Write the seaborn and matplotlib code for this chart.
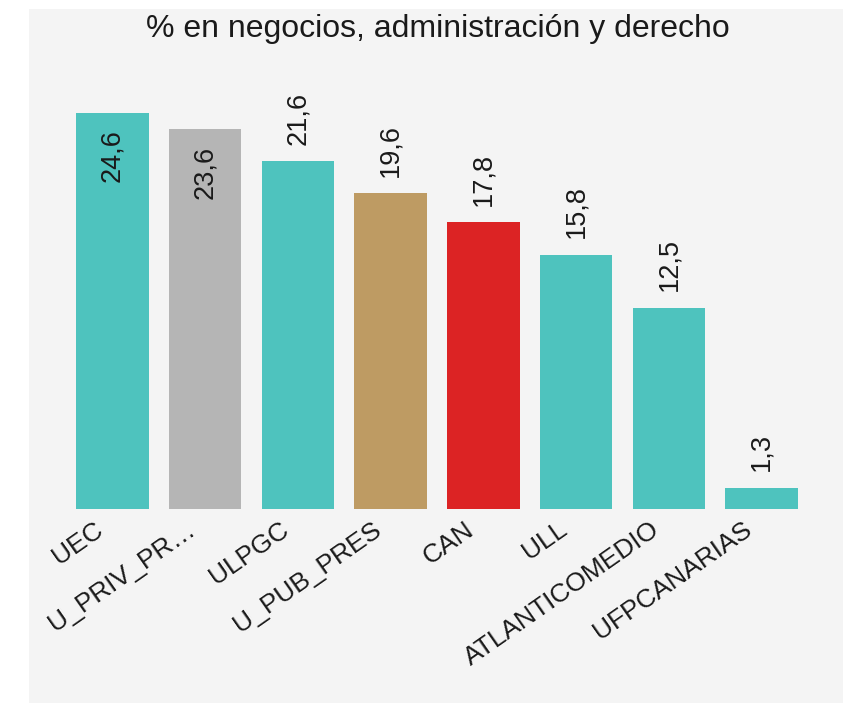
import matplotlib
matplotlib.use("Agg")
import matplotlib.pyplot as plt
from matplotlib.patches import Rectangle
from matplotlib.transforms import ScaledTranslation
import pandas as pd
import seaborn as sns

# datos
categorias = ["UEC", "U_PRIV_PR…", "ULPGC", "U_PUB_PRES", "CAN", "ULL",
              "ATLANTICOMEDIO", "UFPCANARIAS"]
valores = [24.6, 23.6, 21.6, 19.6, 17.8, 15.8, 12.5, 1.3]
titulo = "% en negocios, administración y derecho"

# colores por categoria
colores = ["#4ec3be", "#b5b5b5", "#4ec3be", "#be9b63", "#dc2324",
           "#4ec3be", "#4ec3be", "#4ec3be"]
paleta = dict(zip(categorias, colores))

FONDO = "#f4f4f4"

sns.set_theme(style="white")
plt.rcParams['font.family'] = ['Liberation Sans', 'DejaVu Sans']

df = pd.DataFrame({"cat": categorias, "val": valores})

fig = plt.figure(figsize=(8.43, 7.03), dpi=100, facecolor="white")
# panel gris de fondo
fig.patches.append(Rectangle((29 / 843, 0), 1 - 29 / 843, 1 - 9 / 703,
                             transform=fig.transFigure, facecolor=FONDO,
                             edgecolor="none", zorder=-5))

ymax = 26
px_por_unidad = 16.1
ax = fig.add_axes([66 / 843, 194 / 703, 742 / 843, ymax * px_por_unidad / 703])
ax.set_zorder(2)
ax.set_facecolor(FONDO)

sns.barplot(data=df, x="cat", y="val", hue="cat", palette=paleta,
            width=0.78, dodge=False, legend=False, saturation=1,
            linewidth=0, ax=ax)

ax.set_ylim(0, ymax)
ax.set_xlim(-0.5, len(categorias) - 0.5)
ax.set_xlabel("")
ax.set_ylabel("")
ax.set_yticks([])
sns.despine(ax=ax, left=True, bottom=True)

ax.set_xticks(range(len(categorias)))
ax.set_xticklabels(categorias, rotation=35, ha="right", va="center",
                   rotation_mode="anchor", fontsize=19, color="#1a1a1a")
ax.tick_params(axis="x", length=0, pad=13)
desplaza = ScaledTranslation(-12 / 100, 0, fig.dpi_scale_trans)
for lbl in ax.get_xticklabels():
    lbl.set_transform(lbl.get_transform() + desplaza)

# etiquetas de valor
for i, v in enumerate(valores):
    txt = f"{v:.1f}".replace(".", ",")
    if v > 22:
        ax.annotate(txt, (i, v), xytext=(0, -12), textcoords="offset points",
                    rotation=90, ha="center", va="top", fontsize=19.5,
                    color="#1a1a1a")
    else:
        ax.annotate(txt, (i, v), xytext=(0, 12), textcoords="offset points",
                    rotation=90, ha="center", va="bottom", fontsize=19.5,
                    color="#1a1a1a")

fig.text(438 / 843, 1 - 29 / 703, titulo, ha="center", va="center",
         fontsize=23, color="#1a1a1a", zorder=3)

fig.savefig("out.png", dpi=100, facecolor="white")
